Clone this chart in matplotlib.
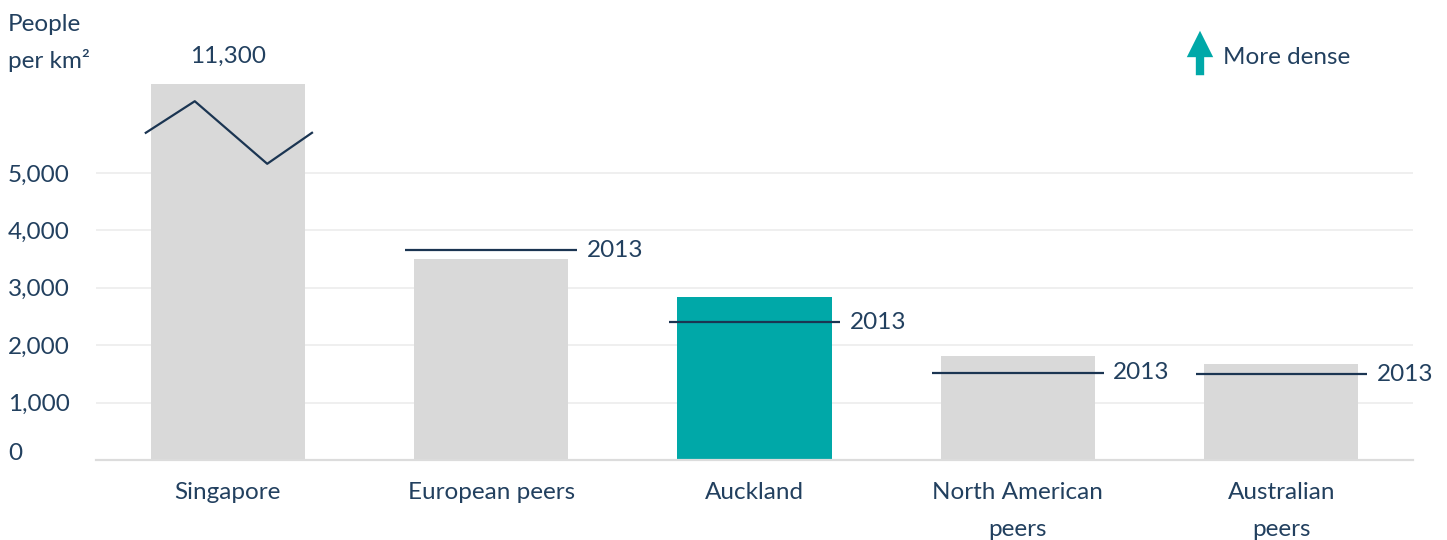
import matplotlib
matplotlib.use("Agg")
import matplotlib.pyplot as plt

# Population density, people per km²
categories = ["Singapore", "European peers", "Auckland", "North American\npeers", "Australian\npeers"]
density = [11300, 3510, 2845, 1810, 1670]
density_2013 = [None, 3650, 2400, 1520, 1490]
y_ticks = [0, 1000, 2000, 3000, 4000, 5000]
y_tick_labels = ["0", "1,000", "2,000", "3,000", "4,000", "5,000"]
singapore_label = "11,300"
# Axis-break zigzag drawn over the truncated Singapore bar (x offsets from bar centre, y in data units)
break_x = [-0.311, -0.125, 0.150, 0.320]
break_y = [5700, 6250, 5160, 5700]

TEXT = "#22405f"
LINE = "#1b3552"
GREY = "#d9d9d9"
TEAL = "#00a8a8"
FS = 17.5

plt.rcParams["font.family"] = ["Lato", "DejaVu Sans"]
plt.rcParams["font.weight"] = "normal"

fig = plt.figure(figsize=(14.47, 5.40), dpi=100)
ax = fig.add_axes([96 / 1447, 80 / 540, (1413 - 96) / 1447, (460 - 84) / 540])

x = list(range(len(categories)))
colors = [TEAL if c == "Auckland" else GREY for c in categories]
ax.bar(x, density, width=0.585, color=colors, zorder=2)

ax.set_xlim(-0.5, 4.5)
ax.set_ylim(0, 6550)

# 2013 reference lines
half = 0.325
for i, v in enumerate(density_2013):
    if v is None:
        continue
    ax.hlines(v, i - half, i + half, color=LINE, lw=1.6, zorder=3)
    ax.annotate("2013", xy=(i + half, v), xytext=(7, 0), textcoords="offset points",
                ha="left", va="center", fontsize=FS, color=TEXT)

# Axis break on the Singapore bar
ax.plot([0 + bx for bx in break_x], break_y, color=LINE, lw=1.6, zorder=4, clip_on=False)
ax.annotate(singapore_label, xy=(0, 1), xycoords=("data", "axes fraction"),
            xytext=(0, 20), textcoords="offset points", ha="center", va="center",
            fontsize=FS, color=TEXT, annotation_clip=False)

# Axes styling
for side in ["top", "right", "left"]:
    ax.spines[side].set_visible(False)
ax.spines["bottom"].set_color("#dcdcdc")
ax.spines["bottom"].set_linewidth(1.6)
ax.set_yticks(y_ticks[1:])
ax.yaxis.grid(True, color="#efefef", lw=1.4, zorder=0)
ax.set_axisbelow(True)
ax.set_yticklabels(y_tick_labels[1:])
ax.tick_params(axis="y", length=0, pad=63.4, labelsize=FS, labelcolor=TEXT)
for lab in ax.get_yticklabels():
    lab.set_ha("left")
ax.annotate(y_tick_labels[0], xy=(-88 / 1317, 0), xycoords="axes fraction",
            xytext=(0, 4.5), textcoords="offset points", ha="left", va="center",
            fontsize=FS, color=TEXT, annotation_clip=False)

ax.set_xticks(x)
ax.set_xticklabels(categories, linespacing=1.9)
ax.tick_params(axis="x", length=0, pad=16, labelsize=FS, labelcolor=TEXT)

# Unit label
fig.text(8 / 1447, 1 - 14 / 540, "People\nper km²", ha="left", va="top", fontsize=FS,
         color=TEXT, linespacing=1.75)

# Direction arrow
fig.add_artist(matplotlib.patches.FancyArrowPatch(
    (1200 / 1447, 1 - 78 / 540), (1200 / 1447, 1 - 28 / 540), transform=fig.transFigure,
    arrowstyle="simple,head_width=1.9,head_length=1.9,tail_width=0.6",
    mutation_scale=10, color=TEAL, lw=0))
fig.text(1223 / 1447, 1 - 58 / 540, "More dense", ha="left", va="center", fontsize=FS,
         color=TEXT)

fig.savefig("out.png", dpi=100)
